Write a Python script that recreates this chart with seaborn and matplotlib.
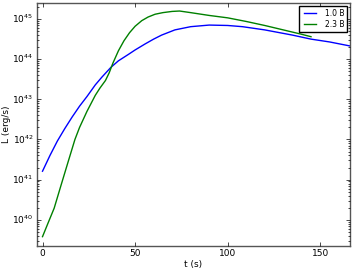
#!/usr/bin/python

import numpy as np
import pandas as pd
import matplotlib
matplotlib.use('Agg')
import matplotlib.pyplot as plt
import seaborn as sns

################################################################################
# values (log10 of L)
t_10 = [0, 4, 8, 12, 16, 20, 24, 28.5, 32, 37, 41, 46.4, 50, 55.4, 60, 64.3,
        71.5, 80, 90, 100, 108, 120, 135, 145, 155, 166]
logL_10 = [41.21, 41.6, 41.96, 42.27, 42.56, 42.83, 43.07, 43.36, 43.55, 43.8,
           43.96, 44.12, 44.23, 44.38, 44.5, 44.6, 44.73, 44.81, 44.85,
           44.84, 44.81, 44.73, 44.6, 44.5, 44.43, 44.33]

t_23 = [0, 3, 6.3, 10, 14, 17.5, 20, 24, 28.5, 31, 34, 36, 38, 41, 44, 47, 50,
        53.6, 57, 60.8, 65, 70, 74, 80, 90, 100, 110, 120, 130, 140, 145]
logL_23 = [39.58, 39.92, 40.29, 40.86, 41.47, 42.0, 42.3, 42.7, 43.1, 43.28,
           43.47, 43.66, 43.9, 44.21, 44.46, 44.66, 44.82, 44.96, 45.05, 45.12,
           45.16, 45.19, 45.2, 45.16, 45.09, 45.03, 44.94, 44.84, 44.73, 44.62,
           44.56]

labels = ['1.0 B', '2.3 B']
colors = ['#0000ff', '#008000']

################################################################################
df = pd.concat([
    pd.DataFrame({'t': t_10, 'L': 10**np.array(logL_10), 'run': labels[0]}),
    pd.DataFrame({'t': t_23, 'L': 10**np.array(logL_23), 'run': labels[1]}),
])

plt.style.use('classic')
fig = plt.figure(figsize=(3.52, 2.72), dpi=100)
ax = fig.add_axes([0.105, 0.096, 0.889, 0.893])

sns.lineplot(data=df, x='t', y='L', hue='run', palette=colors, ax=ax,
             linewidth=1.0, sort=False, estimator=None)
ax.set_yscale('log')
ax.set_xlim(-3, 166)
ax.set_ylim(10**39.35, 10**45.4)
ax.set_xticks([0, 50, 100, 150])
ax.set_xlabel('t (s)', fontsize=6.5, labelpad=1)
ax.set_ylabel('L (erg/s)', fontsize=6.5, labelpad=1)
ax.tick_params(labelsize=6.5, length=3, pad=2.5)
ax.tick_params(which='minor', length=1.5)
for sp in ax.spines.values():
    sp.set_color('#555555')
leg = ax.legend(loc='upper right', fontsize=5.5, handlelength=2.2,
                borderpad=0.35, labelspacing=0.3, borderaxespad=0.4)
leg.set_title(None)

fig.savefig('out.png', dpi=100)
